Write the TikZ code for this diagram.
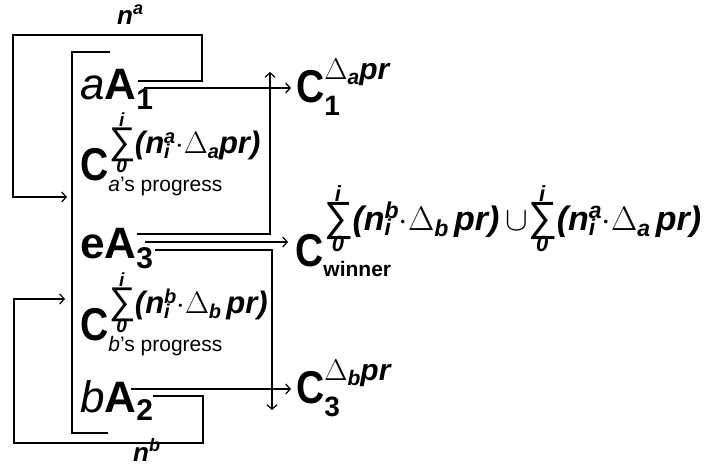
\RequirePackage{fix-cm}
\documentclass[tikz,border=0pt]{standalone}
\usepackage{fontspec}
\setmainfont{Liberation Sans}
\usetikzlibrary{arrows.meta,calc}

\newcommand\sm[1]{\fontsize{#1}{#1}\selectfont}
% big bold C of the labels
\newcommand\bigC{\scalebox{0.85}[1]{\sm{46}\bfseries C}}
% superscript and subscript set one over the other
\newcommand\supsub[4]{%
  \setbox0\hbox{#1}\setbox2\hbox{#2}%
  \dimen0=\wd0 \ifdim\wd2>\dimen0 \dimen0=\wd2 \fi
  \rlap{\raise#3\box0}\rlap{\lower#4\box2}\hskip\dimen0\relax}
% sum from 0 to i
\newcommand\limsum[1]{%
  \setbox0\hbox{\scalebox{1.2}{\mdseries\itshape ∑}}%
  \rlap{\hbox to\wd0{\hss\raise0.85em\hbox{\sm{#1}\itshape i}\hss}}%
  \rlap{\hbox to\wd0{\hss\lower0.62em\hbox{\sm{#1}\itshape 0}\hss}}%
  \box0}

\begin{document}
\begin{tikzpicture}[x=1pt, y=-1pt, >={Straight Barb[length=4.5pt,width=10pt]}]
	\tikzset{
		lbl/.style={inner sep=0pt, anchor=base west},
		conn/.style={line width=1.2pt},
		Alabel/.style={lbl, font=\sm{44}},
	}
	\useasboundingbox (0,0) rectangle (704,468);
	% nodes on the left
	\node[lbl, font=\sm{26}\bfseries\itshape] (na) at (117,25) {n\raise10pt\hbox{\sm{18}a}};
	\node[Alabel] (A1) at (80,100) {{\itshape a}{\bfseries A}\lower10pt\hbox{\sm{30}\bfseries 1}};
	\node[lbl] (Ca) at (80,180) {\bigC\supsub{\sm{31}\bfseries\itshape\limsum{19}(n\supsub{\sm{20}a}{\sm{20}i}{10pt}{5pt}$\cdot\Delta$\lower5pt\hbox{\sm{20}a}pr)}{\sm{21}{\itshape a}’s progress}{27pt}{11pt}};
	\node[Alabel] (A3) at (80,258) {{\bfseries eA}\lower10pt\hbox{\sm{30}\bfseries 3}};
	\node[lbl] (Cb) at (80,340) {\bigC\supsub{\sm{31}\bfseries\itshape\limsum{19}(n\supsub{\sm{20}b}{\sm{20}i}{10pt}{5pt}$\cdot\Delta$\lower5pt\hbox{\sm{20}b}\,pr)}{\sm{21}{\itshape b}’s progress}{27pt}{11pt}};
	\node[Alabel] (A2) at (80,412) {{\itshape b}{\bfseries A}\lower8pt\hbox{\sm{30}\bfseries 2}};
	\node[lbl, font=\sm{26}\bfseries\itshape] (nb) at (133,461) {n\raise10pt\hbox{\sm{18}b}};
	% nodes on the right
	\node[lbl] (C1) at (296,103) {\bigC\supsub{\sm{30}\bfseries\itshape$\Delta$\lower5pt\hbox{\sm{21}a}pr}{\sm{28}\bfseries 1}{23pt}{13pt}};
	\node[lbl] (Cw) at (295,266) {\bigC\supsub{\sm{34}\bfseries\itshape\limsum{22}(n\supsub{\sm{23}b}{\sm{23}i}{12pt}{5pt}$\cdot\Delta$\lower6pt\hbox{\sm{23}b}\,pr)\,$\cup$\limsum{22}(n\supsub{\sm{23}a}{\sm{23}i}{12pt}{5pt}$\cdot\Delta$\lower6pt\hbox{\sm{23}a}\,pr)}{\sm{21}\bfseries winner}{36pt}{10pt}};
	\node[lbl] (C3) at (296,403) {\bigC\supsub{\sm{30}\bfseries\itshape$\Delta$\lower5pt\hbox{\sm{21}b}pr}{\sm{28}\bfseries 3}{23pt}{13pt}};
	% free ends
	\coordinate (ain) at (67,197);
	\coordinate (bin) at (65,299);
	\coordinate (up) at (270,72);
	\coordinate (down) at (272,410);
	% bracket
	\draw[conn] (110,52) -| (72,433) -- (108,433);
	% loops
	\draw[conn, ->] ($(A1.base east)+(-15,-19)$) -| (202,35) -| (13,197) -- (ain);
	\draw[conn, ->] ($(A2.base east)+(0,-16)$) -| (203,443) -| (14,299) -- (bin);
	% arrows
	\draw[conn, ->] ($(A1.base east)+(-9,-12)$) -- ([xshift=-5pt]C1.west |- 0,88);
	\draw[conn, ->] ($(A3.base east)+(-16,-24)$) -| (up);
	\draw[conn, ->] ($(A3.base east)+(-8,-16)$) -- ([xshift=-7pt]Cw.west |- 0,242);
	\draw[conn, ->] ($(A3.base east)+(2,-8)$) -| (down);
	\draw[conn, ->] ($(A2.base east)+(-22,-23)$) -- ([xshift=-5pt]C3.west |- 0,389);
\end{tikzpicture}
\end{document}
